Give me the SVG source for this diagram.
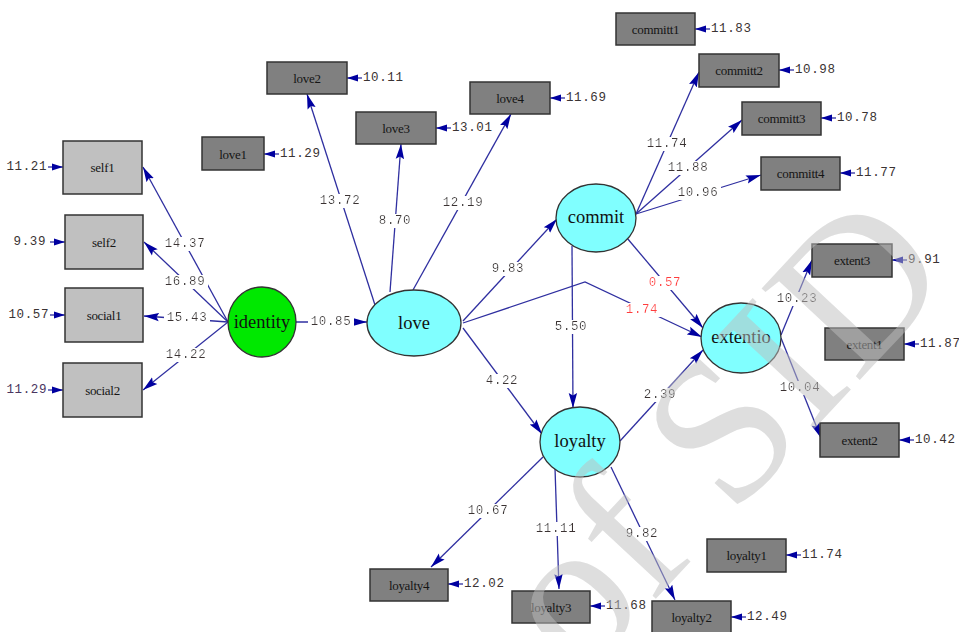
<svg xmlns="http://www.w3.org/2000/svg" width="959" height="632" viewBox="0 0 959 632">
<style>
.c{stroke:#2f2fa0;stroke-width:1.3;fill:none}
.ca{marker-end:url(#ah)}
.ce{marker-end:url(#eh)}
.lbl{font-family:"Liberation Mono",monospace;font-size:12.5px;fill:#3a3333;letter-spacing:0.6px;text-anchor:middle;dominant-baseline:central;filter:url(#bg)}
.red{fill:#ff3c3c}
.el{font-family:"Liberation Mono",monospace;font-size:12.5px;fill:#3a3333;letter-spacing:0.6px;dominant-baseline:central}
.end{text-anchor:end}
.obs{fill:#808080;stroke:#333;stroke-width:1.5}
.obsl{fill:#c0c0c0;stroke:#333;stroke-width:1.5}
.bt{font-family:"Liberation Serif",serif;font-size:13px;fill:#151515;text-anchor:middle;dominant-baseline:central;letter-spacing:-0.3px}
.lat{fill:#80ffff;stroke:#333;stroke-width:1.3}
.lt{font-family:"Liberation Serif",serif;font-size:18.5px;fill:#111;text-anchor:middle;dominant-baseline:central}
.wm{font-family:"Liberation Serif",serif;font-size:205px;fill:#bebebe;opacity:0.5}
</style>
<defs>
<filter id="bg" x="-0.06" y="0" width="1.12" height="1"><feFlood flood-color="#ffffff"/><feComposite in="SourceGraphic" operator="over"/></filter>
<marker id="ah" markerUnits="userSpaceOnUse" markerWidth="16" markerHeight="10" refX="15" refY="5" orient="auto"><path d="M0,0.8 L15,5 L0,9.2 L2.5,5 z" fill="#0000a0"/></marker>
<marker id="eh" markerUnits="userSpaceOnUse" markerWidth="12" markerHeight="8" refX="11" refY="4" orient="auto"><path d="M0,0.5 L11,4 L0,7.5 z" fill="#0000a0"/></marker>
</defs>
<rect width="959" height="632" fill="#fff"/>
<g id="connectors">
<line class="c ca" x1="228" y1="322" x2="143" y2="167"/>
<line class="c ca" x1="228" y1="322" x2="144" y2="242"/>
<line class="c ca" x1="228" y1="322" x2="144" y2="316"/>
<line class="c ca" x1="228" y1="322" x2="143" y2="390"/>
<line class="c ca" x1="296" y1="322" x2="367" y2="322"/>
<line class="c ca" x1="375" y1="305" x2="307" y2="94"/>
<line class="c ca" x1="390" y1="292" x2="401" y2="144"/>
<line class="c ca" x1="413" y1="290" x2="511" y2="114"/>
<line class="c ca" x1="463" y1="321" x2="557" y2="219"/>
<polyline class="c ca" points="463,323 585,282 702,337"/>
<line class="c ca" x1="463" y1="328" x2="542" y2="434"/>
<line class="c ca" x1="572" y1="246" x2="573" y2="408"/>
<line class="c ca" x1="627" y1="238" x2="703" y2="328"/>
<line class="c ca" x1="620" y1="441" x2="703" y2="350"/>
<line class="c ca" x1="636" y1="214" x2="699" y2="72"/>
<line class="c ca" x1="636" y1="214" x2="742" y2="120"/>
<line class="c ca" x1="636" y1="214" x2="761" y2="175"/>
<line class="c ca" x1="781" y1="335" x2="812" y2="260"/>
<line class="c ca" x1="781" y1="338" x2="821" y2="438"/>
<line class="c ca" x1="543" y1="457" x2="431" y2="567"/>
<line class="c ca" x1="555" y1="468" x2="559" y2="589"/>
<line class="c ca" x1="611" y1="467" x2="675" y2="600"/>
<text class="lbl" x="185" y="244">14.37</text>
<text class="lbl" x="185" y="282">16.89</text>
<text class="lbl" x="187" y="318">15.43</text>
<text class="lbl" x="186" y="355">14.22</text>
<text class="lbl" x="331" y="322">10.85</text>
<text class="lbl" x="340" y="201">13.72</text>
<text class="lbl" x="395" y="221">8.70</text>
<text class="lbl" x="463" y="203">12.19</text>
<text class="lbl" x="508" y="269">9.83</text>
<text class="lbl red" x="642" y="310">1.74</text>
<text class="lbl red" x="665" y="283">0.57</text>
<text class="lbl" x="571" y="327">5.50</text>
<text class="lbl" x="502" y="381">4.22</text>
<text class="lbl" x="660" y="395">2.39</text>
<text class="lbl" x="667" y="144">11.74</text>
<text class="lbl" x="688" y="168">11.88</text>
<text class="lbl" x="698" y="193">10.96</text>
<text class="lbl" x="797" y="299">10.23</text>
<text class="lbl" x="800" y="388">10.04</text>
<text class="lbl" x="488" y="511">10.67</text>
<text class="lbl" x="556" y="529">11.11</text>
<text class="lbl" x="642" y="534">9.82</text>
<line class="c ce" x1="48" y1="167" x2="63" y2="167"/>
<line class="c ce" x1="50" y1="242" x2="65" y2="242"/>
<line class="c ce" x1="50" y1="315" x2="65" y2="315"/>
<line class="c ce" x1="48" y1="390" x2="63" y2="390"/>
<text class="el end" x="47" y="167">11.21</text>
<text class="el end" x="46" y="242">9.39</text>
<text class="el end" x="49" y="315">10.57</text>
<text class="el end" x="47" y="390" style="fill:#4a3560">11.29</text>
<line class="c ce" x1="279" y1="154" x2="264" y2="154"/>
<line class="c ce" x1="362" y1="78" x2="347" y2="78"/>
<line class="c ce" x1="451" y1="128" x2="436" y2="128"/>
<line class="c ce" x1="565" y1="98" x2="550" y2="98"/>
<line class="c ce" x1="710" y1="29" x2="695" y2="29"/>
<line class="c ce" x1="794" y1="70" x2="779" y2="70"/>
<line class="c ce" x1="836" y1="118" x2="821" y2="118"/>
<line class="c ce" x1="855" y1="173" x2="840" y2="173"/>
<line class="c ce" x1="907" y1="260" x2="892" y2="260"/>
<line class="c ce" x1="919" y1="344" x2="904" y2="344"/>
<line class="c ce" x1="914" y1="440" x2="899" y2="440"/>
<line class="c ce" x1="801" y1="555" x2="786" y2="555"/>
<line class="c ce" x1="746" y1="617" x2="731" y2="617"/>
<line class="c ce" x1="605" y1="606" x2="590" y2="606"/>
<line class="c ce" x1="463" y1="584" x2="448" y2="584"/>
<text class="el" x="280" y="154">11.29</text>
<text class="el" x="363" y="78">10.11</text>
<text class="el" x="452" y="128">13.01</text>
<text class="el" x="566" y="98">11.69</text>
<text class="el" x="711" y="29">11.83</text>
<text class="el" x="795" y="70">10.98</text>
<text class="el" x="837" y="118">10.78</text>
<text class="el" x="856" y="173">11.77</text>
<text class="el" x="908" y="260">9.91</text>
<text class="el" x="920" y="344">11.87</text>
<text class="el" x="915" y="440">10.42</text>
<text class="el" x="802" y="555">11.74</text>
<text class="el" x="747" y="617">12.49</text>
<text class="el" x="606" y="606">11.68</text>
<text class="el" x="464" y="584">12.02</text>
</g>
<g id="self1"><rect class="obsl" x="63" y="141" width="79" height="53"/><text class="bt" x="102.5" y="167.5">self1</text></g>
<g id="self2"><rect class="obsl" x="65" y="215" width="78" height="54"/><text class="bt" x="104" y="242">self2</text></g>
<g id="social1"><rect class="obsl" x="65" y="288" width="78" height="54"/><text class="bt" x="104" y="315">social1</text></g>
<g id="social2"><rect class="obsl" x="63" y="363" width="79" height="54"/><text class="bt" x="102.5" y="390">social2</text></g>
<g id="love1"><rect class="obs" x="202" y="137" width="62" height="33"/><text class="bt" x="233" y="154">love1</text></g>
<g id="love2"><rect class="obs" x="267" y="62" width="80" height="32"/><text class="bt" x="307" y="78">love2</text></g>
<g id="love3"><rect class="obs" x="356" y="112" width="80" height="32"/><text class="bt" x="396" y="128">love3</text></g>
<g id="love4"><rect class="obs" x="470" y="82" width="80" height="32"/><text class="bt" x="510" y="98">love4</text></g>
<g id="committ1"><rect class="obs" x="616" y="13" width="79" height="32"/><text class="bt" x="655.5" y="29">committ1</text></g>
<g id="committ2"><rect class="obs" x="699" y="54" width="80" height="33"/><text class="bt" x="739" y="70.5">committ2</text></g>
<g id="committ3"><rect class="obs" x="742" y="102" width="79" height="33"/><text class="bt" x="781.5" y="118.5">committ3</text></g>
<g id="committ4"><rect class="obs" x="761" y="157" width="79" height="33"/><text class="bt" x="800.5" y="173.5">committ4</text></g>
<g id="extent3"><rect class="obs" x="812" y="244" width="80" height="33"/><text class="bt" x="852" y="260.5">extent3</text></g>
<g id="extent1"><rect class="obs" x="825" y="328" width="79" height="32"/><text class="bt" x="864.5" y="344">extent1</text></g>
<g id="extent2"><rect class="obs" x="820" y="423" width="79" height="34"/><text class="bt" x="859.5" y="440">extent2</text></g>
<g id="loyalty1"><rect class="obs" x="707" y="539" width="79" height="33"/><text class="bt" x="746.5" y="555.5">loyalty1</text></g>
<g id="loyalty2"><rect class="obs" x="652" y="601" width="79" height="33"/><text class="bt" x="691.5" y="617.5">loyalty2</text></g>
<g id="loyalty3"><rect class="obs" x="512" y="591" width="78" height="32"/><text class="bt" x="551" y="607">loyalty3</text></g>
<g id="loyalty4"><rect class="obs" x="370" y="569" width="78" height="32"/><text class="bt" x="409" y="585">loyalty4</text></g>
<g id="identity"><ellipse cx="262" cy="322" rx="34" ry="35" fill="#00e800" stroke="#333" stroke-width="1.3"/><text class="lt" x="262" y="322">identity</text></g>
<g id="love"><ellipse class="lat" cx="414" cy="323" rx="47" ry="33"/><text class="lt" x="414" y="323">love</text></g>
<g id="commit"><ellipse class="lat" cx="596" cy="218" rx="40" ry="34"/><text class="lt" x="596" y="217">commit</text></g>
<g id="extentio"><ellipse class="lat" cx="741" cy="338" rx="40" ry="35"/><text class="lt" x="741" y="337">extentio</text></g>
<g id="loyalty"><ellipse class="lat" cx="580" cy="442" rx="40" ry="35"/><text class="lt" x="580" y="441">loyalty</text></g>
<text class="wm" transform="translate(580,680) rotate(-47)">of SID</text>
</svg>
